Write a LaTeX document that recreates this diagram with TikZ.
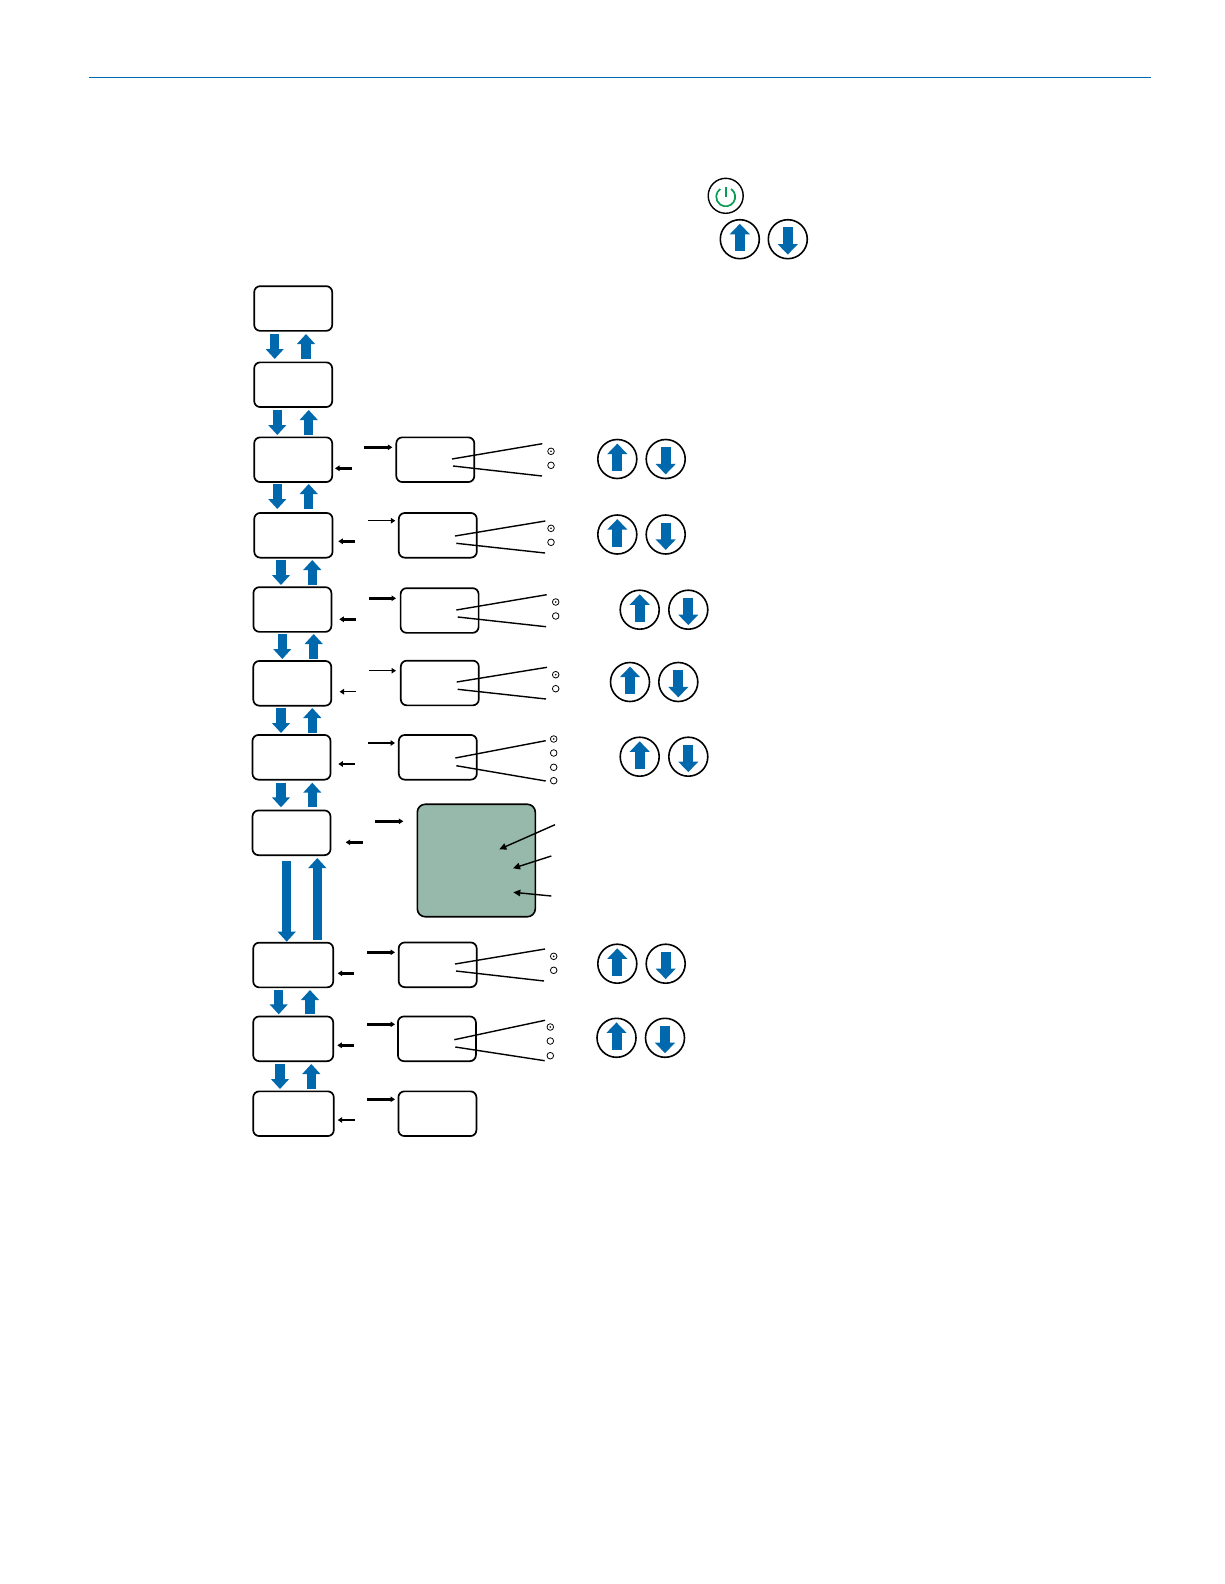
\documentclass[tikz,border=0pt]{standalone}
\usetikzlibrary{arrows.meta}
\definecolor{flowblue}{HTML}{0068AC}
\definecolor{panelgreen}{HTML}{96B9AB}
\definecolor{powergreen}{HTML}{0A9B55}
\tikzset{
  stepbox/.style={draw=black,line width=1.7pt,rounded corners=6pt,inner sep=0pt,outer sep=0pt,minimum height=44.7pt,fill=white},
  panelbox/.style={draw=black,line width=1.6pt,rounded corners=8pt,inner sep=0pt,outer sep=0pt,fill=panelgreen,minimum width=118pt,minimum height=112.5pt},
  bluearrow/.style={draw=flowblue,line width=9.4pt,-{Triangle[width=17.6pt,length=10pt,fill=flowblue]}},
  keycircle/.style={circle,draw=black,line width=1.6pt,inner sep=0pt,outer sep=0pt,minimum size=39pt,fill=white},
  keyarrow/.style={draw=flowblue,line width=10pt,-{Triangle[width=19.5pt,length=10.5pt,fill=flowblue]}},
  thickarrow/.style={draw=black,line width=2.4pt,-{Triangle[width=5.5pt,length=4.5pt]}},
  thinarrow/.style={draw=black,line width=1.5pt,-{Triangle[width=5.5pt,length=4.5pt]}},
  leader/.style={draw=black,line width=1.4pt},
  pointer/.style={draw=black,line width=1.4pt,-{Triangle[width=6.5pt,length=7pt]}},
  radio/.style={circle,draw=black,line width=0.8pt,inner sep=0pt,outer sep=0pt,minimum size=6.6pt,fill=white},
  radiodot/.style={circle,fill=black,inner sep=0pt,outer sep=0pt,minimum size=1.8pt},
}
% \flow{name}{x}{top y}{bottom y}: pair of end points, then arrow
\newcommand{\downflow}[4]{\coordinate (#1a) at (#2,#3);\coordinate (#1b) at (#2,#4);\draw[bluearrow] (#1a) -- (#1b);}
\newcommand{\upflow}[4]{\coordinate (#1a) at (#2,#4);\coordinate (#1b) at (#2,#3);\draw[bluearrow] (#1a) -- (#1b);}
% \keypair{name}{x up}{x down}{y}
\newcommand{\keypair}[4]{%
  \node[keycircle] (#1u) at (#2,#4) {};
  \node[keycircle] (#1d) at (#3,#4) {};
  \coordinate (#1ua) at ([yshift=-12pt]#1u.center);
  \coordinate (#1ub) at ([yshift=15.4pt]#1u.center);
  \coordinate (#1da) at ([yshift=12pt]#1d.center);
  \coordinate (#1db) at ([yshift=-15.4pt]#1d.center);
  \draw[keyarrow] (#1ua) -- (#1ub);
  \draw[keyarrow] (#1da) -- (#1db);}
% \horiz{style}{name}{x1}{x2}{y}
\newcommand{\horiz}[5]{\coordinate (#2a) at (#3,#5);\coordinate (#2b) at (#4,#5);\draw[#1] (#2a) -- (#2b);}
% \seg{style}{name}{x1}{y1}{x2}{y2}
\newcommand{\seg}[6]{\coordinate (#2a) at (#3,#4);\coordinate (#2b) at (#5,#6);\draw[#1] (#2a) -- (#2b);}
\newcommand{\radioon}[3]{\node[radio] (#1) at (#2,#3) {};\node[radiodot] (#1c) at (#1.center) {};}
\newcommand{\radiooff}[3]{\node[radio] (#1) at (#2,#3) {};}
\begin{document}
\begin{tikzpicture}[x=1pt,y=-1pt]
\useasboundingbox (0,0) rectangle (1224,1584);
\fill[white] (0,0) rectangle (1224,1584);
% top rule
\coordinate (ruleL) at (89,77.3);
\coordinate (ruleR) at (1150.6,77.3);
\draw[flowblue,line width=1pt] (ruleL) -- (ruleR);
% left column
\node[stepbox,minimum width=78pt] (b1) at (293.2,308.5) {};
\node[stepbox,minimum width=78pt] (b2) at (293.2,384.7) {};
\node[stepbox,minimum width=78pt] (b3) at (293.2,459.7) {};
\node[stepbox,minimum width=78.3pt] (b4) at (293.4,535.3) {};
\node[stepbox,minimum width=78pt] (b5) at (292.4,609.5) {};
\node[stepbox,minimum width=78pt] (b6) at (292.3,683.3) {};
\node[stepbox,minimum width=78pt] (b7) at (291.5,757.3) {};
\node[stepbox,minimum width=78pt] (b8) at (291.5,832.8) {};
\node[stepbox,minimum width=80pt] (b9) at (293.2,965) {};
\node[stepbox,minimum width=80pt] (b10) at (293.2,1038.8) {};
\node[stepbox,minimum width=80.6pt] (b11) at (293.5,1113.7) {};
% right column
\node[stepbox,minimum width=78pt] (r3) at (435.3,459.7) {};
\node[stepbox,minimum width=78pt] (r4) at (437.8,535.3) {};
\node[stepbox,minimum width=78pt] (r5) at (439.6,610.5) {};
\node[stepbox,minimum width=78pt] (r6) at (439.8,683) {};
\node[stepbox,minimum width=78pt] (r7) at (437.8,757.3) {};
\node[panelbox] (r8) at (476.3,860.5) {};
\node[stepbox,minimum width=78pt] (r9) at (437.7,964.8) {};
\node[stepbox,minimum width=78pt] (r10) at (436.9,1038.8) {};
\node[stepbox,minimum width=78pt] (r11) at (437.4,1113.7) {};
% blue flow arrows
\downflow{d1}{274.7}{334}{359}   \upflow{u1}{306}{334}{359}
\downflow{d2}{277.3}{410}{435}   \upflow{u2}{308.7}{410}{435}
\downflow{d3}{277.3}{484}{509}   \upflow{u3}{308.7}{484}{509}
\downflow{d4}{281}{560}{585}     \upflow{u4}{312.3}{560}{585}
\downflow{d5}{282.3}{634}{659}   \upflow{u5}{313.7}{634}{659}
\downflow{d6}{281}{708}{733}     \upflow{u6}{312.3}{708}{733}
\downflow{d7}{281}{782.7}{807.3} \upflow{u7}{312.3}{782.7}{807.3}
\downflow{d8}{286.7}{861}{941.7} \upflow{u8}{317.3}{858}{940}
\downflow{d9}{278.7}{990}{1014.3} \upflow{u9}{310}{990}{1014.3}
\downflow{d10}{280}{1064}{1089}  \upflow{u10}{311.3}{1064}{1089}
% black arrows
\horiz{thickarrow}{i3}{364}{392.3}{447.3}   \horiz{thickarrow}{o3}{352}{335}{468.3}
\horiz{thinarrow}{i4}{368}{395.3}{520.7}    \horiz{thickarrow}{o4}{355}{338.3}{541.3}
\horiz{thickarrow}{i5}{368.7}{396}{598.3}   \horiz{thickarrow}{o5}{356}{339.3}{619.3}
\horiz{thinarrow}{i6}{369}{396}{670.7}      \horiz{thinarrow}{o6}{356}{339.5}{691.7}
\horiz{thinarrow}{i7}{368}{395}{743}        \horiz{thinarrow}{o7}{355}{338.3}{764}
\horiz{thickarrow}{i8}{375}{403.3}{821.3}   \horiz{thickarrow}{o8}{363}{345.7}{842.3}
\horiz{thickarrow}{i9}{367}{395}{952.3}     \horiz{thickarrow}{o9}{354}{337.7}{973.3}
\horiz{thickarrow}{i10}{367}{395}{1024.3}   \horiz{thickarrow}{o10}{354}{337.3}{1045.3}
\horiz{thickarrow}{i11}{367}{395}{1099.3}   \horiz{thinarrow}{o11}{355}{337.7}{1120}
% leaders
\seg{leader}{a3}{452}{459}{542.3}{443.7}    \seg{leader}{c3}{453}{466}{542}{476}
\seg{leader}{a4}{455}{536}{545.3}{521}      \seg{leader}{c4}{456.3}{543.3}{545}{553}
\seg{leader}{a5}{456.3}{610}{546.7}{594.7}  \seg{leader}{c5}{457.7}{617}{546}{626.7}
\seg{leader}{a6}{456.7}{682}{547}{667.3}    \seg{leader}{c6}{457.7}{689.3}{546}{699}
\seg{leader}{a7}{455.3}{758}{545.7}{740.7}  \seg{leader}{c7}{456.3}{765.7}{545.7}{781}
\seg{leader}{a9}{455}{964}{545}{949}        \seg{leader}{c9}{456}{971}{544}{981}
\seg{leader}{a10}{454.3}{1039.7}{545}{1020.3} \seg{leader}{c10}{455.3}{1047}{544.7}{1060.7}
% pointers on the panel
\seg{pointer}{p1}{555}{824.7}{499.3}{849.3}
\seg{pointer}{p2}{551.3}{856}{513}{868.3}
\seg{pointer}{p3}{551.3}{896}{513.3}{892.3}
% option marks
\radioon{m3a}{551}{451.3}     \radiooff{m3b}{551}{465.3}
\radioon{m4a}{551}{528.3}     \radiooff{m4b}{551}{542.3}
\radioon{m5a}{555.7}{602}     \radiooff{m5b}{555.7}{616}
\radioon{m6a}{555.7}{674.7}   \radiooff{m6b}{555.7}{688.7}
\radioon{m7a}{553.7}{739}     \radiooff{m7b}{553.7}{753}
\radiooff{m7c}{553.7}{767.3}  \radiooff{m7d}{553.7}{780.7}
\radioon{m9a}{553.7}{956.3}   \radiooff{m9b}{553.7}{970.3}
\radioon{m10a}{550.3}{1027}   \radiooff{m10b}{550.3}{1041}
\radiooff{m10c}{550.3}{1055.7}
% keys
\keypair{kt}{739.8}{787.8}{239.2}
\keypair{k3}{617.3}{665.7}{459}
\keypair{k4}{617.3}{665.7}{534.5}
\keypair{k5}{639.7}{688.3}{609.7}
\keypair{k6}{630}{678.3}{682}
\keypair{k7}{639.7}{688.3}{756.7}
\keypair{k9}{617.3}{665.7}{963.7}
\keypair{k10}{616.5}{665}{1037.8}
% power key
\node[circle,draw=black,line width=1.4pt,inner sep=0pt,outer sep=0pt,minimum size=35pt] (power) at (725.7,195.8) {};
\coordinate (powerC) at ([yshift=-1pt]power.center);
\draw[powergreen,line width=1.7pt] ([shift={(55:9.5pt)}]powerC) arc[start angle=55,end angle=-235,radius=9.5pt];
\coordinate (powerA) at ([yshift=8.5pt]power.center);
\coordinate (powerB) at ([yshift=-1.5pt]power.center);
\draw[powergreen,line width=1.7pt] (powerA) -- (powerB);
\end{tikzpicture}
\end{document}
